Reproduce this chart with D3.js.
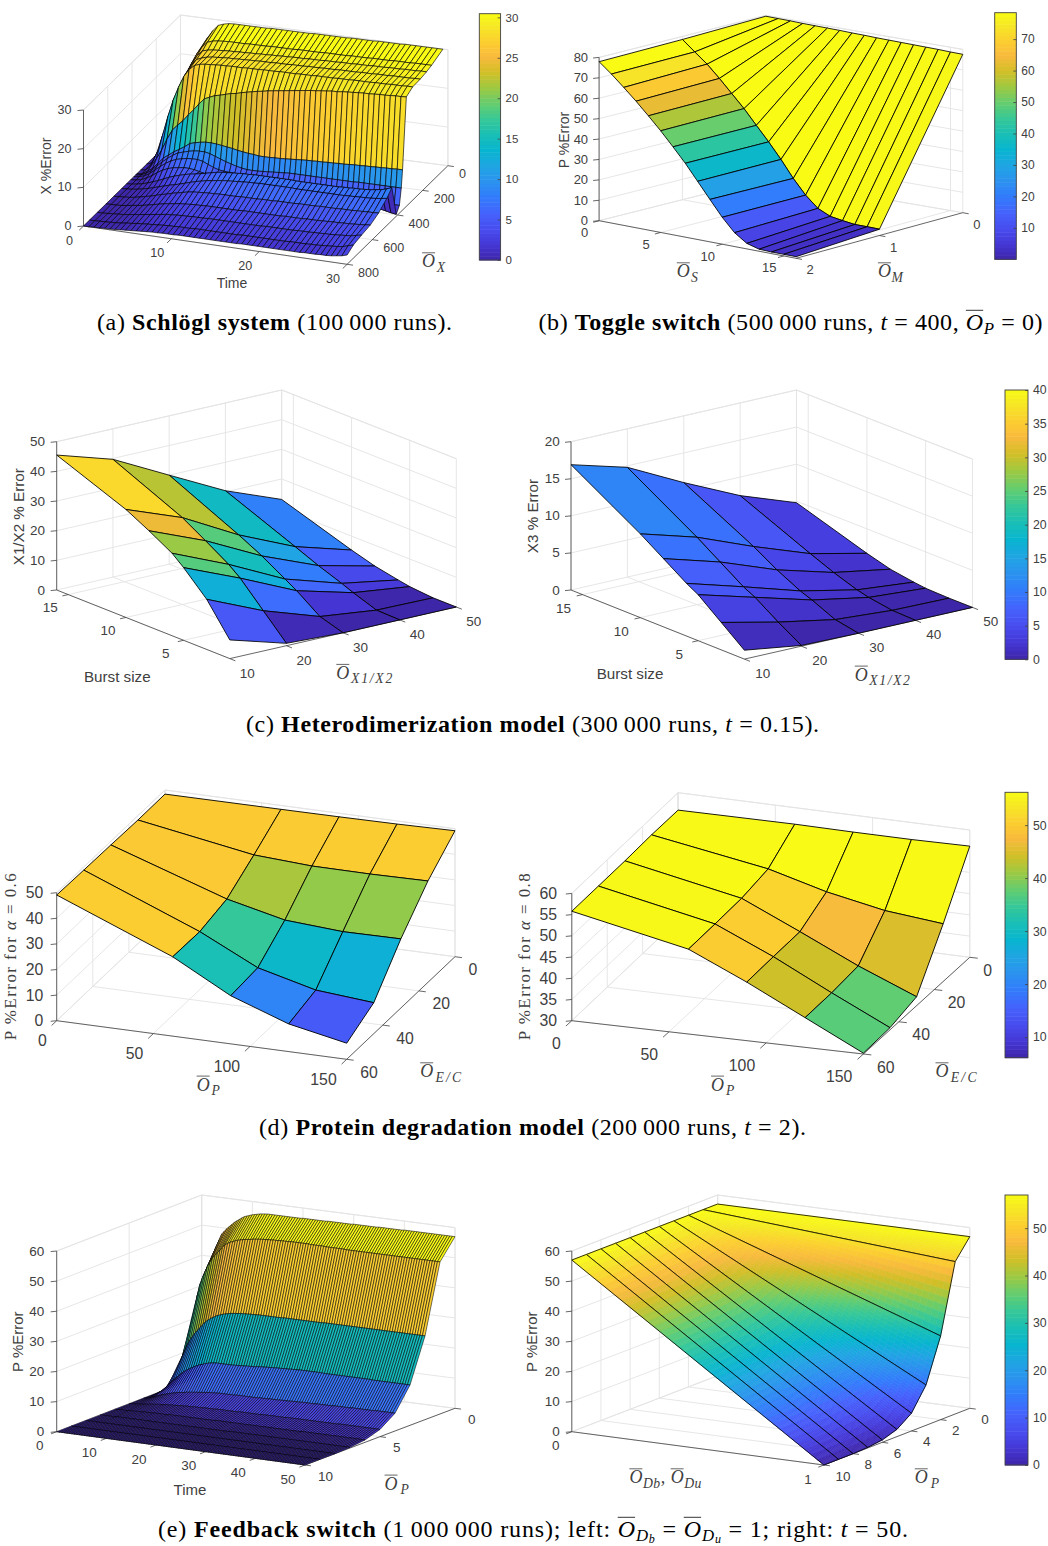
<!DOCTYPE html>
<html>
<head>
<meta charset="utf-8">
<script src="https://cdn.jsdelivr.net/npm/d3@7"></script>
<style>
  html, body { margin: 0; padding: 0; background: #fff; overflow: hidden; }
  text { white-space: pre; }
</style>
</head>
<body>
<svg id="fig" width="1048" height="1546"></svg>
<script>
// (a) Schlogl system
const schloglTime = d3.range(51).map(i => i * 0.6);
const schloglOx = [40,130,170,220,280,330,360,370,385,410,445,485,550,615,685,750,800];
const schloglZ = [
[0,2,9,15,20,24,26.5,28.5,30,30.5,
30.8,30.9,30.9,30.9,30.9,30.9,30.9,30.9,31,31,
31,31,31,31,31,31,31.1,31.1,31.1,31.1,
31.1,31.1,31.1,31.2,31.2,31.2,31.2,31.2,31.3,31.3,
31.3,31.3,31.3,31.4,31.4,31.4,31.4,31.4,31.4,31.4,
31.4],
[0,1.5,7,13,18,22,25,27,28.4,28.9,
29.1,29.2,29.3,29.3,29.3,29.3,29.4,29.4,29.4,29.4,
29.5,29.5,29.5,29.5,29.5,29.6,29.6,29.6,29.6,29.6,
29.7,29.7,29.7,29.7,29.7,29.8,29.8,29.8,29.8,29.9,
29.9,29.9,29.9,30,30,30,30,30.1,30.1,30.1,
30.1],
[0,1,6,12,17,21,24,26,27.4,27.8,
28,28.1,28.2,28.3,28.3,28.4,28.4,28.5,28.5,28.6,
28.6,28.7,28.7,28.8,28.8,28.9,28.9,28.9,29,29,
29,29.1,29.1,29.1,29.2,29.2,29.2,29.3,29.3,29.3,
29.4,29.4,29.4,29.5,29.5,29.5,29.6,29.6,29.6,29.7,
29.7],
[0,.8,5,10.5,15.5,19.5,22.5,25,26.7,27.3,
27.7,27.9,28,28.1,28.2,28.2,28.3,28.3,28.4,28.4,
28.5,28.5,28.5,28.6,28.6,28.6,28.7,28.7,28.7,28.8,
28.8,28.8,28.9,28.9,28.9,29,29,29,29,29.1,
29.1,29.1,29.2,29.2,29.2,29.3,29.3,29.3,29.3,29.4,
29.4],
[0,.5,3.5,8,13,17.5,21,24,26,27.2,
27.7,27.9,28,28.1,28.2,28.2,28.3,28.3,28.3,28.4,
28.4,28.4,28.5,28.5,28.5,28.6,28.6,28.6,28.6,28.7,
28.7,28.7,28.8,28.8,28.8,28.8,28.9,28.9,28.9,29,
29,29,29,29.1,29.1,29.1,29.2,29.2,29.2,29.3,
29.3],
[0,.3,1.5,3.5,6,9,11.5,13,14.3,16,
17.5,19.2,20.7,21.3,21.9,22.2,22.6,23,23.2,23.6,
23.9,24.2,24.5,24.7,25,25.2,25.4,25.6,25.8,26,
26.2,26.4,26.6,26.7,26.9,27,27.2,27.2,27.4,27.5,
27.6,27.7,27.8,27.8,27.9,28,28,28.1,28.2,28.2,
28.3],
[0,.2,1,2,3.5,5,6,7,7.8,8.7,
9.7,10.1,10.4,10.6,10.6,10.5,10.3,10.1,9.9,9.6,
9.4,9.2,9.1,8.9,8.9,8.9,9,9,9.1,9.2,
9.3,9.4,9.5,9.5,9.6,9.6,9.7,9.7,9.8,9.8,
9.9,10,10,10.1,10.1,10.2,10.2,10.3,10.3,10.4,
10.4],
[0,.2,.8,1.7,3,4.3,5.4,6.4,7.2,7.6,
8,8.3,8.4,8.4,8.1,7.6,7.1,6.6,6.2,5.8,
5.5,5.3,5.3,5.3,5.4,5.5,5.6,5.7,5.8,5.9,
5.9,5.9,5.9,5.9,5.9,5.9,5.9,5.9,5.9,5.9,
5.9,5.9,6,6,6,6,6,6,6,6,
6],
[0,.2,.6,1.4,2.5,3.6,4.6,5.4,6,6.3,
6.6,6.7,6.7,6.4,5.8,5.2,4.8,4.6,4.5,4.4,
4.4,4.4,4.4,4.4,4.4,4.4,4.3,4.2,4.1,4,
3.9,3.7,3.5,3.3,3.1,3,2.8,2.7,2.6,2.5,
2.4,2.4,2.3,2.3,2.2,2.2,2.1,2.1,2,2,
2],
[0,.1,.4,1,1.8,2.8,3.6,4.2,4.6,4.8,
5,5,4.8,4.5,4.2,4,3.8,3.7,3.6,3.6,
3.5,3.5,3.5,3.5,3.4,3.4,3.3,3.3,3.2,3.2,
3.1,3,3,2.9,2.8,2.7,2.6,2.5,2.4,2.3,
2.2,2.1,2,1.9,1.8,1.7,1.5,1.3,1,.7,
.5],
[0,.1,.3,.6,1,1.5,2,2.6,3.2,3.7,
4.1,4.5,4.8,5,5.3,5.6,5.9,6.2,6.4,6.5,
6.6,6.7,6.8,6.8,6.9,6.9,6.9,6.9,6.9,6.9,
6.9,6.9,6.8,6.8,6.8,6.8,6.8,6.8,6.8,6.8,
6.8,6.9,6.9,7,7,7.1,7.2,7.4,7.6,8,
8.5],
[0,.1,.2,.4,.7,1,1.4,1.8,2.2,2.6,
2.9,3.3,3.7,4.1,4.5,4.8,5.1,5.3,5.5,5.7,
5.8,5.9,6,6.1,6.2,6.2,6.3,6.3,6.3,6.3,
6.3,6.3,6.3,6.2,6.2,6.2,6.2,6.2,6.2,6.2,
6.2,6.2,6.2,6.3,6.3,6.4,6.4,6.5,6.6,6.8,
7],
[0,.1,.2,.3,.5,.8,1.1,1.4,1.8,2.2,
2.5,2.9,3.2,3.5,3.8,4,4.1,4.2,4.3,4.3,
4.4,4.4,4.4,4.4,4.5,4.5,4.5,4.5,4.6,4.6,
4.6,4.7,4.7,4.7,4.7,4.8,4.8,4.8,4.8,4.9,
4.9,4.9,4.9,5,5,5,5.1,5.1,5.2,5.2,
5.3],
[0,.1,.1,.2,.4,.6,.8,1,1.3,1.6,
1.9,2.2,2.4,2.6,2.8,2.9,3,3.1,3.1,3.2,
3.2,3.2,3.2,3.2,3.2,3.2,3.3,3.3,3.3,3.3,
3.3,3.3,3.3,3.3,3.4,3.4,3.4,3.4,3.5,3.5,
3.5,3.6,3.6,3.7,3.7,3.8,3.8,3.9,4,4.1,
4.3],
[0,0,.1,.2,.3,.4,.6,.8,1,1.2,
1.4,1.6,1.8,2,2.1,2.2,2.3,2.3,2.4,2.4,
2.4,2.5,2.5,2.5,2.5,2.5,2.5,2.5,2.5,2.5,
2.5,2.5,2.6,2.6,2.6,2.6,2.6,2.6,2.7,2.7,
2.7,2.8,2.8,2.9,2.9,3,3.1,3.2,3.3,3.6,
3.9],
[0,0,.1,.1,.2,.3,.4,.6,.7,.9,
1,1.1,1.2,1.3,1.4,1.5,1.5,1.6,1.6,1.6,
1.7,1.7,1.7,1.7,1.7,1.7,1.7,1.7,1.7,1.8,
1.8,1.8,1.8,1.8,1.8,1.8,1.8,1.8,1.9,1.9,
1.9,1.9,2,2,2.1,2.2,2.3,2.4,2.6,3,
3.4],
[0,0,.1,.1,.2,.2,.3,.4,.5,.6,
.7,.8,.9,1,1,1.1,1.1,1.1,1.2,1.2,
1.2,1.2,1.2,1.2,1.2,1.2,1.2,1.2,1.2,1.2,
1.3,1.3,1.3,1.3,1.3,1.3,1.3,1.3,1.3,1.3,
1.3,1.3,1.4,1.4,1.4,1.5,1.5,1.6,1.8,2,
2.4]
];

// (b) Toggle switch
const toggleOs = [0,1,2,3,4,5,6,7,8,9,10,11,12,13,14,15,16];
const toggleOm = [0,1,2];
const toggleZ = [
[79.6,79.5,79.4,79.2,79.1,79,78.9,78.7,78.6,78.4,78.3,78.2,78.1,78,77.9,77.7,77.6],
[78.5,73.5,68.6,62.7,56.4,50.1,43,36,28.5,20.3,13.2,7.8,5,4,3.2,3.2,3.1],
[77.9,73,67.6,62,56,49.8,43.1,36.2,28.5,20.8,13.2,6.8,2.7,1,.8,.8,.8]
];

// (c) Heterodimerization
const burstSize = [1,3,5,6,8,10,16];
const obsX1X2 = [10,20,30,40,50];
const heteroX1Z = [
[6.3,16.9,24.5,27.8,32.3,36.4,45.5],
[.8,8.7,16.6,19.7,24.6,29.3,39.7],
[0,2.4,8,10.4,15.1,19.1,30],
[0,.2,3,4.6,7.5,10.8,20.4],
[0,0,.7,1.4,3,5.3,13.1]
];
const heteroX3Z = [
[1.2,3.7,6.2,7.1,9.2,11.3,16.9],
[.1,2,4.1,4.9,7,9.1,14.8],
[0,.6,2,2.6,4.2,6.1,11],
[0,.1,.6,1,2.1,3.4,7.5],
[0,0,.1,.3,.8,1.7,4.8]
];

// (d) Protein degradation
const obsP = [0,60,90,120,150];
const obsEC = [0,15,30,45,60];
const proteinZ06 = [
[48.4,48.5,48.6,48.8,49.2],
[48.3,40.7,39.4,39.3,39.6],
[48.6,33.5,28.3,26.8,27],
[48.8,30.8,19.7,14,12.1],
[49.1,31,18.8,10.8,6.3]
];
const proteinZ08 = [
[55.9,56.1,56,56,56.2],
[56,51.4,47.7,45,43.6],
[55.8,50.3,44.1,37.7,32.1],
[55.8,50.1,44,37.1,30.5],
[55.8,50,43.8,37,30.2]
];

// (e) Feedback switch
const feedbackTime = d3.range(101).map(i => i * 0.5);
const feedbackOp = [0,1,2,3,4,5,6,7,8,9,10];
const feedbackZ = [
[0,8,18,28,36,41,44,46,48,49,
50,50.8,51.6,52.4,53,53.6,54.2,54.7,55,55.3,
55.6,55.8,56,56.2,56.3,56.4,56.5,56.5,56.5,56.5,
56.5,56.5,56.5,56.5,56.5,56.5,56.5,56.5,56.5,56.5,
56.6,56.6,56.6,56.6,56.6,56.6,56.6,56.6,56.6,56.6,
56.7,56.7,56.7,56.7,56.7,56.7,56.7,56.7,56.7,56.7,
56.8,56.8,56.8,56.8,56.8,56.8,56.8,56.8,56.8,56.8,
56.9,56.9,56.9,56.9,56.9,56.9,56.9,56.9,56.9,56.9,
57,57,57,57,57,57,57,57,57,57,
57,57,57,57,57,57,57,57,57,57,
57],
[0,7,18,24,29,32.6,35,37,39,40.5,
42,43,44,45,46,47,47.5,48,48.3,48.7,
49,49.2,49.4,49.6,49.7,49.8,50,50.1,50.2,50.3,
50.4,50.4,50.5,50.5,50.6,50.6,50.6,50.7,50.7,50.7,
50.7,50.8,50.8,50.8,50.8,50.8,50.8,50.8,50.8,50.7,
50.7,50.7,50.7,50.7,50.7,50.6,50.6,50.6,50.6,50.6,
50.6,50.6,50.6,50.5,50.5,50.5,50.5,50.5,50.5,50.5,
50.5,50.5,50.5,50.5,50.5,50.5,50.5,50.5,50.5,50.5,
50.5,50.5,50.5,50.5,50.5,50.5,50.5,50.5,50.5,50.5,
50.5,50.5,50.5,50.5,50.5,50.5,50.5,50.5,50.5,50.5,
50.5],
[0,1.5,4.5,8,11,13,15,16.5,17.8,19,
20,21,22,23,23.7,24.3,24.8,25.3,25.7,26,
26.3,26.5,26.7,26.9,27,27.1,27.2,27.3,27.3,27.4,
27.4,27.5,27.5,27.5,27.6,27.6,27.6,27.6,27.6,27.6,
27.6,27.6,27.6,27.6,27.7,27.7,27.7,27.7,27.7,27.7,
27.7,27.7,27.7,27.7,27.7,27.7,27.7,27.7,27.7,27.7,
27.8,27.8,27.8,27.8,27.8,27.8,27.8,27.8,27.8,27.8,
27.8,27.8,27.8,27.8,27.8,27.8,27.8,27.8,27.8,27.8,
27.8,27.8,27.8,27.8,27.8,27.8,27.8,27.8,27.8,27.8,
27.8,27.8,27.8,27.8,27.8,27.8,27.8,27.8,27.8,27.8,
27.8],
[0,.3,1,1.7,2.8,3.8,4.8,5.6,6.4,7.2,
7.9,8.5,9,9.5,10,10.4,10.8,11.1,11.4,11.7,
11.9,12.1,12.2,12.3,12.3,12.3,12.3,12.3,12.3,12.3,
12.3,12.4,12.4,12.5,12.5,12.6,12.6,12.7,12.7,12.8,
12.9,13,13,13.1,13.1,13.2,13.2,13.3,13.3,13.3,
13.4,13.4,13.4,13.5,13.5,13.5,13.6,13.6,13.6,13.6,
13.6,13.6,13.6,13.6,13.6,13.6,13.5,13.5,13.5,13.5,
13.5,13.5,13.5,13.5,13.5,13.5,13.5,13.5,13.5,13.5,
13.5,13.5,13.5,13.5,13.5,13.4,13.4,13.4,13.4,13.4,
13.4,13.4,13.4,13.4,13.4,13.4,13.4,13.4,13.4,13.4,
13.4],
[0,.1,.3,.6,.9,1.2,1.5,1.8,2.1,2.3,
2.6,2.8,3,3.2,3.4,3.5,3.6,3.8,3.9,4,
4.1,4.2,4.3,4.4,4.5,4.6,4.7,4.7,4.8,4.8,
4.9,4.9,4.9,4.9,4.9,4.9,4.9,5,5,5,
5,5,5,5,5,5,5.1,5.1,5.1,5.1,
5.2,5.2,5.2,5.2,5.2,5.3,5.3,5.3,5.3,5.4,
5.4,5.4,5.4,5.5,5.5,5.5,5.5,5.5,5.5,5.6,
5.6,5.6,5.6,5.6,5.6,5.6,5.7,5.7,5.7,5.7,
5.7,5.7,5.7,5.8,5.8,5.8,5.8,5.8,5.8,5.8,
5.8,5.8,5.9,5.9,5.9,5.9,5.9,5.9,5.9,5.9,
5.9],
[0,.1,.1,.2,.3,.4,.5,.6,.7,.8,
.9,1,1.1,1.1,1.2,1.3,1.3,1.4,1.4,1.5,
1.5,1.6,1.6,1.7,1.7,1.7,1.8,1.8,1.8,1.8,
1.9,1.9,1.9,1.9,1.9,2,2,2,2,2,
2,2,2,2,2.1,2.1,2.1,2.1,2.1,2.1,
2.1,2.1,2.1,2.2,2.2,2.2,2.2,2.2,2.2,2.2,
2.2,2.2,2.2,2.3,2.3,2.3,2.3,2.3,2.3,2.3,
2.3,2.3,2.3,2.3,2.3,2.3,2.3,2.3,2.3,2.3,
2.3,2.3,2.3,2.3,2.4,2.4,2.4,2.4,2.4,2.4,
2.4,2.4,2.4,2.4,2.4,2.4,2.4,2.4,2.4,2.4,
2.4],
[0,0,.1,.1,.1,.1,.2,.2,.2,.3,
.3,.3,.4,.4,.4,.4,.5,.5,.5,.5,
.5,.5,.6,.6,.6,.6,.6,.6,.6,.6,
.6,.6,.6,.6,.6,.6,.6,.6,.6,.6,
.7,.7,.7,.7,.7,.7,.7,.7,.7,.7,
.7,.7,.7,.7,.7,.7,.7,.7,.7,.7,
.7,.7,.7,.7,.7,.7,.7,.7,.7,.7,
.7,.7,.7,.7,.7,.8,.8,.8,.8,.8,
.8,.8,.8,.8,.8,.8,.8,.8,.8,.8,
.8,.8,.8,.8,.8,.8,.8,.8,.8,.8,
.8],
[0,0,0,0,0,0,0,.1,.1,.1,
.1,.1,.1,.1,.1,.1,.1,.1,.1,.1,
.1,.1,.1,.1,.1,.1,.1,.1,.1,.1,
.1,.1,.1,.1,.1,.1,.1,.1,.1,.1,
.1,.1,.1,.1,.1,.1,.1,.1,.1,.1,
.1,.1,.2,.2,.2,.2,.2,.2,.2,.2,
.2,.2,.2,.2,.2,.2,.2,.2,.2,.2,
.2,.2,.2,.2,.2,.2,.2,.2,.2,.2,
.2,.2,.2,.2,.2,.2,.2,.2,.2,.2,
.2,.2,.2,.2,.2,.2,.2,.2,.2,.2,
.2],
[0,0,0,0,0,0,0,0,0,0,
0,0,0,0,0,0,0,0,0,0,
0,0,0,0,0,0,0,0,0,0,
0,0,0,0,0,0,0,0,0,0,
0,0,0,0,0,0,0,0,0,0,
0,0,0,0,0,0,0,0,0,0,
0,0,0,0,0,0,0,0,0,0,
0,0,0,0,0,0,0,0,0,0,
0,0,0,0,0,0,0,0,0,0,
0,0,0,0,0,0,0,0,0,0,
0],
[0,0,0,0,0,0,0,0,0,0,
0,0,0,0,0,0,0,0,0,0,
0,0,0,0,0,0,0,0,0,0,
0,0,0,0,0,0,0,0,0,0,
0,0,0,0,0,0,0,0,0,0,
0,0,0,0,0,0,0,0,0,0,
0,0,0,0,0,0,0,0,0,0,
0,0,0,0,0,0,0,0,0,0,
0,0,0,0,0,0,0,0,0,0,
0,0,0,0,0,0,0,0,0,0,
0],
[0,0,0,0,0,0,0,0,0,0,
0,0,0,0,0,0,0,0,0,0,
0,0,0,0,0,0,0,0,0,0,
0,0,0,0,0,0,0,0,0,0,
0,0,0,0,0,0,0,0,0,0,
0,0,0,0,0,0,0,0,0,0,
0,0,0,0,0,0,0,0,0,0,
0,0,0,0,0,0,0,0,0,0,
0,0,0,0,0,0,0,0,0,0,
0,0,0,0,0,0,0,0,0,0,
0]
];
const feedbackDb = [0,1];
const feedbackEndZ = [
[57,57],[57,50.6],[57,27.8],[57,13.4],[57,5.9],[57,2.4],[57,.8],[57,.2],[57,0],[57,0],[57,0]
];

// parula, sampled from the 64 step map
const parulaStops = [0,4,8,12,16,20,24,28,32,36,40,44,48,52,56,60,63].map(i => i / 63);
const parulaHex = ["#3E26A8","#4537D5","#484DF0","#4563FD","#327BFC","#2B91EF","#20A5E3","#08B5D0",
  "#19BFB6","#37C897","#64CD6F","#9DC943","#D1BF27","#F8BA3D","#FCCF30","#F5E924","#F9FB15"];
const parula = d3.scaleLinear().domain(parulaStops).range(parulaHex).clamp(true);

const sans = "'Liberation Sans', Arimo, Helvetica, sans-serif";
const serif = "'Liberation Serif', 'Times New Roman', serif";
const inkColor = "#404040";
const thin = "\u2009";

const svg = d3.select("#fig");
const lineGen = d3.line();

function richText(g, segs, o) {
  const size = o.size;
  const text = g.append("text")
    .attr("x", o.x).attr("y", o.y)
    .attr("font-family", serif)
    .attr("font-size", size)
    .attr("text-anchor", o.anchor || "start")
    .attr("fill", o.fill || "#000");
  if (o.length) text.attr("textLength", o.length).attr("lengthAdjust", "spacing");
  let cur = 0, idx = 0;
  const bars = [];
  segs.forEach(s => {
    const lv = s.sub || 0;
    const drop = lv === 0 ? 0 : lv === 1 ? size * (o.drop1 || 0.24) : size * 0.26;
    const ts = text.append("tspan").text(s.t)
      .attr("font-size", lv === 0 ? size : lv === 1 ? size * (o.subScale || 0.7) : size * 0.5)
      .attr("dy", drop - cur);
    if (s.b) ts.attr("font-weight", "bold");
    if (s.i) ts.attr("font-style", "italic");
    cur = drop;
    if (s.bar) bars.push(idx);
    idx += s.t.length;
  });
  const node = text.node();
  bars.forEach(i => {
    const a = node.getStartPositionOfChar(i), b = node.getEndPositionOfChar(i);
    g.append("line")
      .attr("x1", a.x).attr("x2", b.x)
      .attr("y1", a.y - size * 0.8).attr("y2", a.y - size * 0.8)
      .attr("stroke", o.fill || "#000").attr("stroke-width", 0.8);
  });
}

const obar = (name, sub) => [{t: "O", i: true, bar: true}, {t: name, i: true, sub: sub || 1}];

function unit(a, b, len) {
  const dx = b[0] - a[0], dy = b[1] - a[1], n = Math.hypot(dx, dy);
  return [dx / n * len, dy / n * len];
}

function drawSurface(p) {
  const g = svg.append("g");
  const {fl, fr, br, bl} = p;
  const xs = d3.scaleLinear().domain(p.xDomain).range([0, 1]);
  const ys = d3.scaleLinear().domain(p.yDomain).range([0, 1]);
  const zs = d3.scaleLinear().domain(p.zDomain).range([0, p.zh]);
  const cs = d3.scaleLinear().domain(p.cDomain).range([0, 1]).clamp(true);

  const project = (x, y, z) => {
    const u = xs(x), v = ys(y);
    const fx = fl[0] + (fr[0] - fl[0]) * u, fy = fl[1] + (fr[1] - fl[1]) * u;
    const bx = bl[0] + (br[0] - bl[0]) * u, by = bl[1] + (br[1] - bl[1]) * u;
    return [fx + (bx - fx) * v, fy + (by - fy) * v - zs(z)];
  };

  const [x0, x1] = p.xDomain, [y0, y1] = p.yDomain, [z0, z1] = p.zDomain;

  // walls and floor grid
  const grid = [];
  p.xTicks.forEach(t => grid.push([project(t, y0, z0), project(t, y1, z0), project(t, y1, z1)]));
  p.yTicks.forEach(t => grid.push([project(x1, t, z0), project(x0, t, z0), project(x0, t, z1)]));
  p.zTicks.forEach(t => grid.push([project(x0, y0, t), project(x0, y1, t), project(x1, y1, t)]));
  grid.push([project(x0, y1, z0), project(x0, y1, z1)]);
  grid.push([project(x1, y1, z0), project(x1, y1, z1)]);
  grid.push([project(x0, y0, z1), project(x0, y1, z1), project(x1, y1, z1)]);
  g.append("g").selectAll("path").data(grid).join("path")
    .attr("d", lineGen).attr("fill", "none").attr("stroke", "#e3e3e3").attr("stroke-width", 0.9);

  // axis lines and tick stubs
  const xDir = unit(br, fr, p.tickLen || 6);
  const yDir = unit(fl, fr, p.tickLen || 6);
  const axes = [
    [project(x0, y0, z0), project(x1, y0, z0)],
    [project(x1, y0, z0), project(x1, y1, z0)],
    [project(x0, y0, z0), project(x0, y0, z1)]
  ];
  p.xTicks.forEach(t => { const a = project(t, y0, z0); axes.push([a, [a[0] + xDir[0], a[1] + xDir[1]]]); });
  p.yTicks.forEach(t => { const a = project(x1, t, z0); axes.push([a, [a[0] + yDir[0], a[1] + yDir[1]]]); });
  p.zTicks.forEach(t => { const a = project(x0, y0, t); axes.push([a, [a[0] - 6, a[1] + 0.6]]); });
  g.append("g").selectAll("path").data(axes).join("path")
    .attr("d", lineGen).attr("fill", "none").attr("stroke", inkColor).attr("stroke-width", 0.8);

  // faces, far corner first, flat colour taken from the lowest index vertex
  const quads = [];
  p.ys.forEach((yv, i) => {
    if (i === p.ys.length - 1) return;
    p.xs.forEach((xv, j) => {
      if (j === p.xs.length - 1) return;
      quads.push({i, j, u: xs((xv + p.xs[j + 1]) / 2), v: ys((yv + p.ys[i + 1]) / 2)});
    });
  });
  quads.sort((a, b) => d3.descending(a.v, b.v) || d3.ascending(a.u, b.u));

  const faces = [];
  quads.forEach(({i, j}) => {
    const xa = p.xs[j], xb = p.xs[j + 1], ya = p.ys[i], yb = p.ys[i + 1];
    const z00 = p.zz[i][j], z01 = p.zz[i][j + 1], z10 = p.zz[i + 1][j], z11 = p.zz[i + 1][j + 1];
    const outline = [project(xa, ya, z00), project(xb, ya, z01), project(xb, yb, z11), project(xa, yb, z10)];
    if (p.interp) {
      const nx = 40, ny = 10;
      for (let a = 0; a < nx; a++) for (let b = 0; b < ny; b++) {
        const corner = (s, t) => {
          const sz = (1 - s) * ((1 - t) * z00 + t * z10) + s * ((1 - t) * z01 + t * z11);
          return {z: sz, pt: project(xa + (xb - xa) * s, ya + (yb - ya) * t, sz)};
        };
        const pts = [corner(a / nx, b / ny), corner((a + 1) / nx, b / ny),
          corner((a + 1) / nx, (b + 1) / ny), corner(a / nx, (b + 1) / ny)];
        const col = parula(cs(d3.mean(pts, d => d.z)));
        faces.push({d: lineGen(pts.map(d => d.pt)) + "Z", fill: col, stroke: col, w: 0.6});
      }
      faces.push({d: lineGen(outline) + "Z", fill: "none", stroke: "#000", w: p.edge});
    } else {
      faces.push({d: lineGen(outline) + "Z", fill: parula(cs(z00)), stroke: "#000", w: p.edge});
    }
  });
  g.append("g").selectAll("path").data(faces).join("path")
    .attr("d", d => d.d).attr("fill", d => d.fill)
    .attr("stroke", d => d.stroke).attr("stroke-width", d => d.w)
    .attr("stroke-linejoin", "round");

  // tick labels
  const labels = g.append("g").attr("font-family", sans).attr("font-size", p.tickSize).attr("fill", inkColor);
  labels.selectAll(".xt").data(p.xTicks).join("text").attr("class", "xt")
    .attr("x", t => project(t, y0, z0)[0] + p.xOff[0])
    .attr("y", t => project(t, y0, z0)[1] + p.xOff[1])
    .attr("text-anchor", p.xAnchor || "middle").attr("dominant-baseline", "central").text(t => t);
  labels.selectAll(".yt").data(p.yTicks).join("text").attr("class", "yt")
    .attr("x", t => project(x1, t, z0)[0] + p.yOff[0])
    .attr("y", t => project(x1, t, z0)[1] + p.yOff[1])
    .attr("text-anchor", "start").attr("dominant-baseline", "central").text(t => t);
  labels.selectAll(".zt").data(p.zTicks).join("text").attr("class", "zt")
    .attr("x", t => project(x0, y0, t)[0] + p.zOff)
    .attr("y", t => project(x0, y0, t)[1])
    .attr("text-anchor", "end").attr("dominant-baseline", "central").text(t => t);

  // axis titles
  p.titles.forEach(l => {
    if (l.math) {
      richText(g, l.math, {x: l.x, y: l.y + 5.5, size: 18, anchor: "middle", fill: inkColor, length: l.length, subScale: 0.76});
    } else {
      g.append("text").attr("x", l.x).attr("y", l.y)
        .attr("font-family", sans).attr("font-size", p.titleSize).attr("fill", inkColor)
        .attr("text-anchor", "middle").attr("dominant-baseline", "central").text(l.text);
    }
  });
  const zg = g.append("g").attr("transform", `translate(${p.zTitle.x},${p.zTitle.y}) rotate(-90)`);
  if (p.zTitle.math) {
    richText(zg, p.zTitle.math, {x: 0, y: 6.2, size: 17, anchor: "middle", fill: inkColor, length: p.zTitle.length});
  } else {
    zg.append("text").attr("font-family", sans).attr("font-size", p.titleSize).attr("fill", inkColor)
      .attr("text-anchor", "middle").attr("dominant-baseline", "central").text(p.zTitle.text);
  }
}

function drawColorbar(c) {
  const y = d3.scaleLinear().domain(c.domain).range([c.y1, c.y0]);
  const cs = d3.scaleLinear().domain(c.domain).range([0, 1]);
  const g = svg.append("g");
  const steps = d3.range(64);
  const dv = (c.domain[1] - c.domain[0]) / 64;
  g.selectAll("rect").data(steps).join("rect")
    .attr("x", c.x0).attr("width", c.x1 - c.x0)
    .attr("y", d => y(c.domain[0] + (d + 1) * dv))
    .attr("height", d => y(c.domain[0] + d * dv) - y(c.domain[0] + (d + 1) * dv) + 0.5)
    .attr("fill", d => parula(cs(c.domain[0] + (d + 0.5) * dv)));
  g.append("rect").attr("x", c.x0).attr("y", c.y0).attr("width", c.x1 - c.x0).attr("height", c.y1 - c.y0)
    .attr("fill", "none").attr("stroke", inkColor).attr("stroke-width", 0.9);
  const ax = g.append("g").attr("transform", `translate(${c.x1},0)`)
    .call(d3.axisRight(y).tickValues(c.ticks).tickSizeInner(-3).tickSizeOuter(0).tickPadding(5));
  ax.select(".domain").remove();
  ax.selectAll("line").attr("stroke", inkColor).attr("stroke-width", 0.8);
  ax.selectAll("text").attr("font-family", sans).attr("font-size", c.size).attr("fill", inkColor);
}

const panels = [
  {fl: [83.5, 226], fr: [347.1, 264.3], br: [447.9, 165.7], bl: [180.5, 131], zh: 116,
   xs: schloglTime, ys: schloglOx, zz: schloglZ, edge: 0.65, tickSize: 12.6, titleSize: 14,
   xDomain: [0, 30], yDomain: [800, 0], zDomain: [0, 30], cDomain: [0, 30.45],
   xTicks: [0, 10, 20, 30], yTicks: [0, 200, 400, 600, 800], zTicks: [0, 10, 20, 30],
   xOff: [-14, 14.5], yOff: [11, 8.5], zOff: -12,
   titles: [{text: "Time", x: 232, y: 283.3}, {math: obar("X"), x: 433.6, y: 261.7, length: 23}],
   zTitle: {text: "X %Error", x: 46, y: 166}},
  {fl: [599.1, 220.7], fr: [796.1, 258.3], br: [962.8, 212.7], bl: [765.8, 178.7], zh: 163.3,
   xs: toggleOs, ys: toggleOm, zz: toggleZ, edge: 0.85, tickSize: 13, titleSize: 14,
   xDomain: [0, 16], yDomain: [2, 0], zDomain: [0, 80], cDomain: [0, 78.4],
   xTicks: [0, 5, 10, 15], yTicks: [0, 1, 2], zTicks: [0, 10, 20, 30, 40, 50, 60, 70, 80],
   xOff: [-14.5, 12], yOff: [10.5, 11.5], zOff: -11,
   titles: [{math: obar("S"), x: 687.3, y: 271.7, length: 21}, {math: obar("M"), x: 890.4, y: 271.7, length: 25}],
   zTitle: {text: "P %Error", x: 563.8, y: 140}},
  {fl: [56.7, 590], fr: [229.8, 658.6], br: [456.3, 607], bl: [281.7, 538.3], zh: 148.3,
   xs: burstSize, ys: obsX1X2, zz: heteroX1Z, edge: 0.85, tickSize: 13.5, titleSize: 15.2,
   xDomain: [16, 1], yDomain: [10, 50], zDomain: [0, 50], cDomain: [0, 40],
   xTicks: [15, 10, 5], yTicks: [10, 20, 30, 40, 50], zTicks: [0, 10, 20, 30, 40, 50],
   xOff: [-18, 13], yOff: [10, 14.4], zOff: -11.7,
   titles: [{text: "Burst size", x: 117.3, y: 676}, {math: obar("X1/X2"), x: 364.3, y: 673.3, length: 56}],
   zTitle: {text: "X1/X2 % Error", x: 18.3, y: 516.7}},
  {fl: [571, 590], fr: [744.4, 659.1], br: [972.5, 607.4], bl: [796.5, 538.3], zh: 148.3,
   xs: burstSize, ys: obsX1X2, zz: heteroX3Z, edge: 0.85, tickSize: 13.5, titleSize: 15.2,
   xDomain: [16, 1], yDomain: [10, 50], zDomain: [0, 20], cDomain: [0, 40],
   xTicks: [15, 10, 5], yTicks: [10, 20, 30, 40, 50], zTicks: [0, 5, 10, 15, 20],
   xOff: [-19, 13.8], yOff: [10.8, 14.2], zOff: -11.3,
   titles: [{text: "Burst size", x: 630, y: 673.3}, {math: obar("X1/X2"), x: 882.3, y: 675, length: 55}],
   zTitle: {text: "X3 % Error", x: 532.3, y: 516}},
  {fl: [56.7, 1020.7], fr: [346.7, 1059.3], br: [455, 956.7], bl: [165, 918], zh: 128,
   xs: obsP, ys: obsEC, zz: proteinZ06, edge: 0.9, tickLen: 7, tickSize: 15.8, titleSize: 15,
   xDomain: [0, 150], yDomain: [60, 0], zDomain: [0, 50], cDomain: [6.1, 54.5],
   xTicks: [0, 50, 100, 150], yTicks: [0, 20, 40, 60], zTicks: [0, 10, 20, 30, 40, 50],
   xOff: [-10, 20], xAnchor: "end", yOff: [13.5, 13], zOff: -13.4,
   titles: [{math: obar("P"), x: 208.3, y: 1085, length: 23.3}, {math: obar("E/C"), x: 440.7, y: 1071.7, length: 41}],
   zTitle: {math: [{t: "P %Error for "}, {t: "\u03b1", i: true}, {t: " = 0.6"}], x: 9.3, y: 956.7, length: 167}},
  {fl: [571.8, 1020.7], fr: [863.4, 1054], br: [969.8, 957.3], bl: [678.1, 920], zh: 127.3,
   xs: obsP, ys: obsEC, zz: proteinZ08, edge: 0.9, tickLen: 8, tickSize: 15.8, titleSize: 15,
   xDomain: [0, 150], yDomain: [60, 0], zDomain: [30, 60], cDomain: [6.1, 56.2],
   xTicks: [0, 50, 100, 150], yTicks: [0, 20, 40, 60], zTicks: [30, 35, 40, 45, 50, 55, 60],
   xOff: [-11, 22.5], xAnchor: "end", yOff: [13.5, 13], zOff: -14.8,
   titles: [{math: obar("P"), x: 722.7, y: 1085, length: 23.3}, {math: obar("E/C"), x: 956, y: 1071.7, length: 41}],
   zTitle: {math: [{t: "P %Error for "}, {t: "\u03b1", i: true}, {t: " = 0.8"}], x: 523.7, y: 956.7, length: 167}},
  {fl: [56.7, 1431.7], fr: [305, 1465], br: [455, 1408.3], bl: [201.7, 1375.7], zh: 180.7,
   xs: feedbackTime, ys: feedbackOp, zz: feedbackZ, edge: 0.55, tickSize: 13.5, titleSize: 15,
   xDomain: [0, 50], yDomain: [10, 0], zDomain: [0, 60], cDomain: [0, 57],
   xTicks: [0, 10, 20, 30, 40, 50], yTicks: [0, 5, 10], zTicks: [0, 10, 20, 30, 40, 50, 60],
   xOff: [-17, 14], yOff: [13, 11], zOff: -12.4,
   titles: [{text: "Time", x: 190, y: 1489.3}, {math: obar("P"), x: 396.7, y: 1484, length: 24.3}],
   zTitle: {text: "P %Error", x: 17.3, y: 1341.7}},
  {fl: [571.8, 1431.7], fr: [823.9, 1465], br: [969.8, 1408.3], bl: [717.6, 1375.7], zh: 180.7,
   xs: feedbackDb, ys: feedbackOp, zz: feedbackEndZ, edge: 0.8, interp: true, tickSize: 13.5, titleSize: 15,
   xDomain: [0, 1], yDomain: [10, 0], zDomain: [0, 60], cDomain: [0, 57],
   xTicks: [0, 1], yTicks: [0, 2, 4, 6, 8, 10], zTicks: [0, 10, 20, 30, 40, 50, 60],
   xOff: [-16, 14], yOff: [11.5, 11], zOff: -12,
   titles: [{math: [...obar("Db"), {t: ", "}, ...obar("Du")], x: 665.4, y: 1477.7, length: 72}, {math: obar("P"), x: 926.9, y: 1477.7, length: 24.3}],
   zTitle: {text: "P %Error", x: 531.3, y: 1341.7}}
];

const colorbars = [
  {x0: 479.3, x1: 500.6, y0: 13.7, y1: 260, domain: [0, 30.45], ticks: [0, 5, 10, 15, 20, 25, 30], size: 11.5},
  {x0: 994.7, x1: 1016.3, y0: 12.7, y1: 259.3, domain: [0, 78.4], ticks: [10, 20, 30, 40, 50, 60, 70], size: 12},
  {x0: 1005, x1: 1028, y0: 390, y1: 659.3, domain: [0, 40], ticks: [0, 5, 10, 15, 20, 25, 30, 35, 40], size: 12.3},
  {x0: 1005, x1: 1028, y0: 792.3, y1: 1057.7, domain: [6.1, 56.2], ticks: [10, 20, 30, 40, 50], size: 12.3},
  {x0: 1005, x1: 1028, y0: 1195, y1: 1465, domain: [0, 57], ticks: [0, 10, 20, 30, 40, 50], size: 12.3}
];

const captions = [
  {x: 97, y: 329.5, length: 355, segs: [{t: "(a) "}, {t: "Schl\u00f6gl system", b: true}, {t: ` (100${thin}000 runs).`}]},
  {x: 538.5, y: 329.5, length: 504, segs: [{t: "(b) "}, {t: "Toggle switch", b: true}, {t: ` (500${thin}000 runs, `},
    {t: "t", i: true}, {t: " = 400, "}, {t: "O", i: true, bar: true}, {t: "P", i: true, sub: 1}, {t: " = 0)"}]},
  {x: 246, y: 731.5, length: 573, segs: [{t: "(c) "}, {t: "Heterodimerization model", b: true}, {t: ` (300${thin}000 runs, `},
    {t: "t", i: true}, {t: " = 0.15)."}]},
  {x: 259, y: 1134.5, length: 547, segs: [{t: "(d) "}, {t: "Protein degradation model", b: true}, {t: ` (200${thin}000 runs, `},
    {t: "t", i: true}, {t: " = 2)."}]},
  {x: 158, y: 1536.5, length: 750, segs: [{t: "(e) "}, {t: "Feedback switch", b: true}, {t: ` (1${thin}000${thin}000 runs); left: `},
    {t: "O", i: true, bar: true}, {t: "D", i: true, sub: 1}, {t: "b", i: true, sub: 2}, {t: " = "},
    {t: "O", i: true, bar: true}, {t: "D", i: true, sub: 1}, {t: "u", i: true, sub: 2}, {t: " = 1; right: "},
    {t: "t", i: true}, {t: " = 50."}]}
];

panels.forEach(drawSurface);
colorbars.forEach(drawColorbar);
const capG = svg.append("g");
captions.forEach(c => richText(capG, c.segs, {x: c.x, y: c.y, size: 24, length: c.length, drop1: 0.2}));
</script>
</body>
</html>
